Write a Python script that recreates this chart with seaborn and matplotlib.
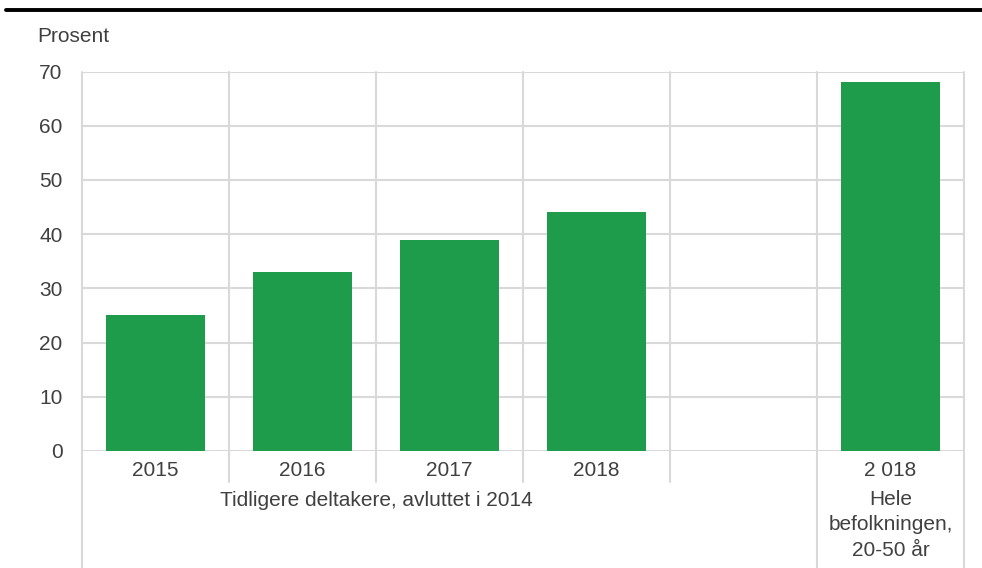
import matplotlib
matplotlib.use("Agg")
import matplotlib.pyplot as plt
from matplotlib.lines import Line2D
import matplotlib.transforms as mtransforms
import numpy as np
import pandas as pd
import seaborn as sns

# Data
categories = ["2015", "2016", "2017", "2018", " ", "2 018"]
values = [25, 33, 39, 44, np.nan, 68]
group_labels = ["Tidligere deltakere, avluttet i 2014", "Hele\nbefolkningen,\n20-50 år"]
y_ticks = [0, 10, 20, 30, 40, 50, 60, 70]

sns.set_theme(style="white")
plt.rcParams["font.family"] = ["Liberation Sans", "DejaVu Sans"]

TEXT = "#404040"
GRID = "#d9d9d9"
BAR = "#1e9c4b"
FS = 15

W, H = 982, 568
fig = plt.figure(figsize=(W / 100, H / 100), dpi=100)
left, right, top, bottom = 82, 964, 71.5, 451
ax = fig.add_axes([left / W, 1 - bottom / H, (right - left) / W, (bottom - top) / H])

df = pd.DataFrame({"kategori": categories, "prosent": values})
sns.barplot(data=df, x="kategori", y="prosent", order=categories, color=BAR,
            saturation=1, width=0.67, linewidth=0, ax=ax, zorder=3)

ax.set_xlim(-0.5, len(categories) - 0.5)
ax.set_ylim(0, 70)
ax.set_yticks(y_ticks)
ax.set_xlabel("")
ax.set_ylabel("")
for s in ax.spines.values():
    s.set_visible(False)

# horizontal grid incl. zero line
for y in y_ticks:
    ax.axhline(y, color=GRID, lw=1.5, zorder=1)

# vertical category separators, some extending into the label area
span = bottom - top
trans = mtransforms.blended_transform_factory(ax.transData, ax.transAxes)
ext_short = -(482 - bottom) / span
ext_long = -(H - bottom) / span
for i in range(len(categories) + 1):
    x = i - 0.5
    low = ext_long if i in (0, 5, 6) else ext_short
    ax.add_line(Line2D([x, x], [low, 1], transform=trans, color=GRID, lw=1.5,
                       clip_on=False, zorder=1))

ax.tick_params(axis="y", length=0, pad=14, labelsize=FS, labelcolor=TEXT)
ax.tick_params(axis="x", length=0, pad=7.5, labelsize=FS, labelcolor=TEXT)

# group labels below the year labels
ax.text(1.5, -(500 - bottom) / span, group_labels[0], transform=trans,
        ha="center", va="center", fontsize=FS, color=TEXT)
ax.text(5, -(525 - bottom) / span, group_labels[1], transform=trans,
        ha="center", va="center", fontsize=FS, color=TEXT, linespacing=1.42)

# unit label and top rule
fig.text(37 / W, 1 - 37 / H, "Prosent", ha="left", va="center", fontsize=FS, color=TEXT)
fig.add_artist(Line2D([6 / W, 1], [1 - 10 / H, 1 - 10 / H], color="black", lw=2.8,
                      transform=fig.transFigure))

fig.savefig("out.png", dpi=100)
